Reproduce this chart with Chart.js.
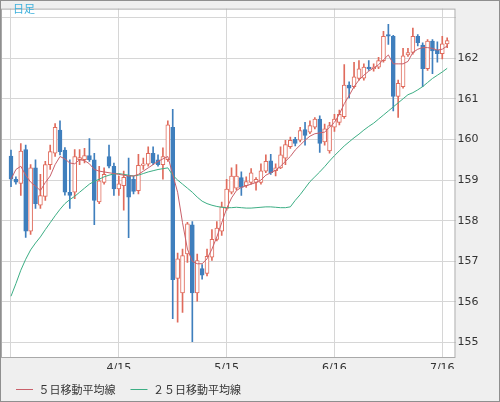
<!DOCTYPE html>
<html>
<head>
<meta charset="utf-8">
<script src="https://cdn.jsdelivr.net/npm/chart.js@4.4.1/dist/chart.umd.min.js"></script>
<style>
html, body { margin: 0; padding: 0; background: #fff; }
#wrap { position: relative; width: 500px; height: 402px; }
#title { position: absolute; left: 13px; top: 0px; font: 11px "Noto Sans CJK JP"; color: #3cb0dc; }
</style>
</head>
<body>
<div id="wrap">
  <canvas id="chart" width="500" height="402"></canvas>
  <div id="title">日足</div>
</div>
<script>
// daily candles
var open = [159.59,159.02,158.92,159.75,157.74,159.30,158.38,158.60,159.38,159.66,
            160.23,159.74,158.70,158.70,159.50,159.50,159.60,159.50,158.46,158.94,
            159.58,159.34,158.78,158.86,159.10,159.02,158.74,159.36,159.39,159.66,
            159.50,159.38,159.50,160.30,156.58,156.22,157.18,157.90,156.22,156.82,
            156.70,157.10,157.54,157.74,158.30,158.70,158.80,159.06,158.86,158.94,
            158.94,158.94,159.22,159.47,159.23,159.30,159.54,159.82,160.00,159.98,
            160.24,160.18,160.30,160.50,159.94,159.72,160.30,160.42,160.56,161.34,
            161.30,161.50,161.51,161.78,161.74,161.78,161.94,162.58,162.54,161.06,
            161.30,162.08,162.14,162.54,162.32,161.74,162.42,162.19,162.11,162.35];
var close = [159.02,158.95,159.71,157.74,159.30,158.42,158.62,159.38,159.70,160.30,
             159.70,158.70,158.62,159.58,159.55,159.60,159.50,158.50,158.98,159.14,
             159.34,158.78,158.91,159.07,158.58,158.72,159.36,159.40,159.66,159.42,
             159.38,159.58,160.36,156.55,157.06,157.14,157.92,156.22,157.02,156.66,
             157.12,157.54,157.82,158.34,158.78,159.10,159.10,158.82,158.96,159.18,
             159.02,159.23,159.46,159.18,159.30,159.62,159.87,159.98,159.90,160.22,
             160.10,160.34,160.50,159.90,160.26,160.34,160.50,160.62,161.34,161.26,
             161.54,161.74,161.78,161.74,161.78,161.94,162.54,162.54,161.06,161.38,
             162.06,162.14,162.54,162.38,161.74,162.42,162.18,162.11,162.35,162.43];
var high = [159.74,159.08,159.90,159.86,159.38,159.50,159.14,159.46,159.86,160.39,
            160.46,159.80,159.50,159.75,159.75,159.78,160.02,159.66,159.34,159.30,
            159.86,159.42,159.10,159.22,159.54,159.10,159.63,159.54,159.82,159.82,
            159.62,159.79,160.46,160.74,157.20,157.30,157.96,157.98,157.18,156.92,
            157.30,157.78,157.98,158.46,159.02,159.30,159.38,159.20,159.08,159.28,
            159.06,159.40,159.62,159.63,159.40,159.82,159.98,160.06,160.05,160.30,
            160.42,160.46,160.54,160.58,160.38,160.42,160.62,160.72,161.84,161.42,
            161.90,161.94,161.86,161.94,161.86,162.02,162.66,162.83,162.56,161.46,
            162.24,162.24,162.74,162.58,162.38,162.46,162.46,162.40,162.54,162.50];
var low = [158.84,158.90,158.62,157.59,157.66,158.30,158.30,158.50,159.26,159.58,
           159.62,158.63,158.30,158.54,159.38,159.42,159.46,157.90,158.42,158.90,
           159.30,158.62,158.62,158.26,157.58,158.66,158.66,159.26,159.34,159.38,
           159.34,159.02,159.46,155.59,155.50,155.74,156.97,155.02,156.02,156.56,
           156.64,157.02,157.50,157.64,158.26,158.66,158.76,158.62,158.82,158.90,
           158.75,158.90,159.18,159.14,159.10,159.28,159.38,159.78,159.84,159.94,
           159.86,160.14,160.26,159.68,159.86,159.66,160.20,160.36,160.52,161.02,
           161.26,161.46,161.46,161.70,161.68,161.74,161.90,162.34,160.70,160.54,
           161.26,162.04,162.10,162.30,161.30,161.70,161.62,161.90,161.98,162.26];

// moving averages as drawn
var ma5 = [159.02,159.26,159.34,159.12,158.95,158.85,158.74,158.94,159.10,159.38,
           159.58,159.52,159.42,159.40,159.50,159.48,159.40,159.26,159.22,159.20,
           159.18,159.16,159.14,159.12,159.10,159.10,159.14,159.22,159.30,159.38,
           159.46,159.52,159.58,159.14,158.70,157.95,157.30,157.00,156.94,156.94,
           157.06,157.30,157.60,157.95,158.30,158.56,158.74,158.82,158.86,158.90,
           158.94,159.00,159.12,159.18,159.24,159.34,159.46,159.58,159.74,159.86,
           159.98,160.08,160.14,160.16,160.18,160.30,160.42,160.62,160.88,161.08,
           161.30,161.46,161.58,161.68,161.76,161.84,161.96,162.08,161.86,161.86,
           161.86,161.92,162.14,162.22,162.26,162.26,162.24,162.20,162.22,162.30];
var ma25 = [156.14,156.45,156.78,157.05,157.28,157.45,157.60,157.78,157.95,158.12,
            158.28,158.42,158.52,158.60,158.70,158.80,158.90,158.97,159.02,159.08,
            159.12,159.15,159.16,159.14,159.12,159.10,159.12,159.16,159.20,159.23,
            159.26,159.28,159.30,159.12,159.00,158.90,158.80,158.70,158.58,158.48,
            158.42,158.38,158.35,158.33,158.32,158.32,158.33,158.32,158.31,158.31,
            158.32,158.33,158.34,158.34,158.33,158.32,158.32,158.34,158.50,158.64,
            158.80,158.96,159.08,159.20,159.33,159.47,159.60,159.72,159.84,159.94,
            160.04,160.13,160.23,160.32,160.40,160.50,160.60,160.70,160.80,160.90,
            161.00,161.10,161.15,161.22,161.30,161.40,161.50,161.58,161.66,161.75];

// date gridlines (candle index) and their labels
var tickIndex = [0, 22, 44, 66, 88];
var tickLabels = ['', '4/15', '5/15', '6/16', '7/16'];

var upColor = '#e06b5c';
var downColor = '#3f7fbd';
var ma5Color = '#c9606a';
var ma25Color = '#3cae84';

var idx = open.map(function (v, i) { return i; });
var isUp = idx.map(function (i) { return close[i] >= open[i]; });
var wickData = idx.map(function (i) { return { x: i, y: [low[i], high[i]] }; });
var bodyData = idx.map(function (i) { return { x: i, y: [Math.min(open[i], close[i]), Math.max(open[i], close[i])] }; });
var ma5Data = idx.map(function (i) { return { x: i, y: ma5[i] }; });
var ma25Data = idx.map(function (i) { return { x: i, y: ma25[i] }; });

var frame = {
    id: 'frame',
    beforeDraw: function (chart) {
        var ctx = chart.ctx, a = chart.chartArea;
        ctx.save();
        ctx.fillStyle = '#efefef';
        ctx.fillRect(0, 0, chart.width, chart.height);
        ctx.fillStyle = '#ffffff';
        ctx.fillRect(a.left, a.top, a.right - a.left, a.bottom - a.top);
        ctx.restore();
    },
    afterDraw: function (chart) {
        var ctx = chart.ctx, a = chart.chartArea;
        ctx.save();
        ctx.lineWidth = 1;
        ctx.strokeStyle = '#a9a9a9';
        ctx.strokeRect(a.left + 0.5, a.top + 0.5, a.right - a.left - 1, a.bottom - a.top - 1);
        ctx.strokeStyle = '#8f8f8f';
        ctx.strokeRect(0.5, 0.5, chart.width - 1, chart.height - 1);
        ctx.restore();
    }
};

var tickFont = { family: "'DejaVu Sans'", size: 11 };
var gridColor = '#d6d6d6';

new Chart(document.getElementById('chart').getContext('2d'), {
    type: 'bar',
    data: {
        datasets: [
            {
                label: 'wick',
                data: wickData,
                backgroundColor: idx.map(function (i) { return isUp[i] ? upColor : downColor; }),
                barThickness: 1,
                grouped: false,
                order: 4
            },
            {
                label: 'body',
                data: bodyData,
                backgroundColor: idx.map(function (i) { return isUp[i] ? '#ffffff' : downColor; }),
                borderColor: idx.map(function (i) { return isUp[i] ? upColor : downColor; }),
                borderWidth: 1,
                borderSkipped: false,
                barThickness: 4,
                minBarLength: 1,
                grouped: false,
                order: 3
            },
            {
                type: 'line',
                label: '５日移動平均線',
                data: ma5Data,
                borderColor: ma5Color,
                backgroundColor: ma5Color,
                borderWidth: 1,
                pointRadius: 0,
                tension: 0,
                order: 1
            },
            {
                type: 'line',
                label: '２５日移動平均線',
                data: ma25Data,
                borderColor: ma25Color,
                backgroundColor: ma25Color,
                borderWidth: 1,
                pointRadius: 0,
                tension: 0,
                order: 2
            }
        ]
    },
    options: {
        responsive: false,
        animation: false,
        layout: { padding: { left: 1, top: 1, right: 0, bottom: 1 } },
        scales: {
            x: {
                type: 'linear',
                offset: false,
                min: -2.04,
                max: 90.7,
                afterBuildTicks: function (scale) {
                    scale.ticks = tickIndex.map(function (v) { return { value: v }; });
                },
                afterFit: function (scale) { scale.height = 11; },
                ticks: {
                    autoSkip: false,
                    maxRotation: 0,
                    padding: 4,
                    color: '#333',
                    font: tickFont,
                    callback: function (v, i) { return tickLabels[i]; }
                },
                grid: { color: gridColor, drawTicks: false, offset: false },
                border: { display: false }
            },
            y: {
                position: 'right',
                min: 154.62,
                max: 163.22,
                afterFit: function (scale) { scale.width = 44.5; },
                ticks: {
                    stepSize: 1,
                    includeBounds: false,
                    padding: 2,
                    color: '#333',
                    font: tickFont,
                    callback: function (v) { return v > 162.5 ? '' : v; }
                },
                grid: { color: gridColor, drawTicks: false },
                border: { display: false }
            }
        },
        plugins: {
            legend: {
                position: 'bottom',
                align: 'start',
                maxHeight: 32,
                labels: {
                    usePointStyle: true,
                    pointStyle: 'line',
                    pointStyleWidth: 17,
                    padding: 15,
                    color: '#333',
                    font: { family: "'Noto Sans CJK JP'", size: 11 },
                    filter: function (item) { return item.datasetIndex >= 2; },
                    generateLabels: function (chart) {
                        var items = Chart.defaults.plugins.legend.labels.generateLabels(chart);
                        items.forEach(function (item) {
                            var ds = chart.data.datasets[item.datasetIndex];
                            if (ds.type === 'line') {
                                item.strokeStyle = ds.borderColor;
                                item.fillStyle = ds.borderColor;
                                item.lineWidth = 1;
                            }
                        });
                        return items;
                    }
                }
            },
            tooltip: { enabled: false }
        }
    },
    plugins: [frame]
});
</script>
</body>
</html>
